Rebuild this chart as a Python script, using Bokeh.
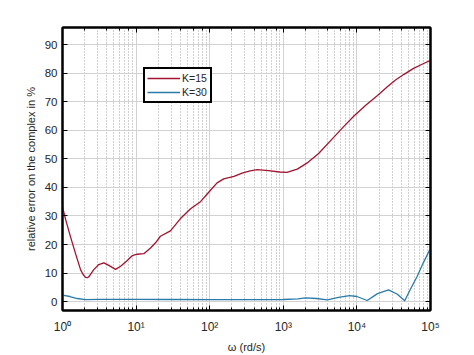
import numpy as np
from bokeh.plotting import figure
from bokeh.models import (Range1d, FixedTicker, LogAxis, LinearAxis, Legend,
                          LegendItem, LogTicker)
from bokeh.embed import file_html
from bokeh.resources import INLINE

# ---- data ----
k15_logw = [0.00, 0.04, 0.109, 0.177, 0.245, 0.28, 0.313, 0.34, 0.36, 0.425,
            0.493, 0.561, 0.629, 0.72, 0.79, 0.88, 0.947, 1.015, 1.105, 1.196,
            1.264, 1.33, 1.467, 1.60, 1.74, 1.875, 1.99, 2.10, 2.19, 2.33,
            2.44, 2.55, 2.645, 2.80, 2.95, 3.05, 3.19, 3.32, 3.48, 3.64,
            3.82, 3.96, 4.12, 4.28, 4.41, 4.52, 4.64, 4.77, 4.90, 5.00]
k15_err = [33.3, 29.0, 22.7, 16.8, 11.2, 9.5, 8.5, 8.4, 8.8, 11.2,
           13.0, 13.6, 12.7, 11.3, 12.4, 14.4, 16.1, 16.6, 16.8, 18.8,
           20.6, 22.9, 24.8, 29.0, 32.5, 35.0, 38.4, 41.6, 43.0, 43.9,
           45.0, 45.8, 46.2, 45.9, 45.4, 45.3, 46.4, 48.5, 51.9, 56.3,
           61.3, 65.0, 68.8, 72.2, 75.2, 77.5, 79.6, 81.7, 83.3, 84.5]

k30_logw = [0.00, 0.10, 0.20, 0.31, 0.50, 1.00, 1.50, 2.00, 2.50, 3.00, 3.20,
            3.30, 3.45, 3.60, 3.75, 3.90, 4.00, 4.14, 4.28, 4.43, 4.55, 4.65,
            4.72, 4.82, 4.90, 5.00]
k30_err = [2.3, 1.8, 1.1, 0.7, 0.8, 0.8, 0.75, 0.7, 0.7, 0.75, 1.0,
           1.3, 1.1, 0.6, 1.5, 2.1, 1.8, 0.4, 2.8, 4.1, 2.6, 0.3,
           4.0, 8.9, 13.5, 18.7]

y_ticks = [0, 10, 20, 30, 40, 50, 60, 70, 80, 90]
x_labels = {1: "10⁰", 10: "10¹", 100: "10²", 1000: "10³", 10000: "10⁴", 100000: "10⁵"}
series_names = ["K=15", "K=30"]
series_colors = ["#A2142F", "#2B7BAA"]

FONT = "Liberation Sans"

k15_w = [10 ** v for v in k15_logw]
k30_w = [10 ** v for v in k30_logw]

p = figure(width=474, height=355, x_axis_type="log",
           x_range=Range1d(1, 1e5), y_range=Range1d(-3.1, 96),
           output_backend="svg", toolbar_location=None,
           min_border_left=62, min_border_right=44,
           min_border_top=27, min_border_bottom=40)
p.background_fill_color = "white"
p.border_fill_color = "white"
p.outline_line_color = "black"
p.outline_line_width = 2

# grids
p.xgrid.grid_line_color = "#d2d2d2"
p.xgrid.grid_line_width = 1
p.xgrid.minor_grid_line_color = "#a0a0a0"
p.xgrid.minor_grid_line_dash = "1 2"
p.ygrid.grid_line_color = "#d2d2d2"
p.ygrid.ticker = FixedTicker(ticks=y_ticks)

# main axes
xa = p.xaxis[0]
xa.major_label_overrides = x_labels
xa.axis_label = "ω (rd/s)"
ya = p.yaxis[0]
ya.ticker = FixedTicker(ticks=y_ticks)
ya.axis_label = "relative error on the complex in %"

for ax in (xa, ya):
    ax.axis_line_color = "black"
    ax.axis_line_width = 2
    ax.major_tick_in = 5
    ax.major_tick_out = 0
    ax.minor_tick_in = 3
    ax.minor_tick_out = 0
    ax.major_tick_line_color = "black"
    ax.minor_tick_line_color = "black"
    ax.major_label_text_font = FONT
    ax.major_label_text_font_size = "11.5px"
    ax.major_label_text_color = "#262626"
    ax.axis_label_text_font = FONT
    ax.axis_label_text_font_size = "11px"
    ax.axis_label_text_font_style = "normal"
    ax.axis_label_text_color = "#262626"
xa.major_label_text_font_size = "12px"
xa.major_label_standoff = 9
xa.axis_label_standoff = 4
ya.major_label_standoff = 5
ya.axis_label_standoff = 5
ya.minor_tick_in = 0

# mirrored axes (top/right) with inside ticks only, labels hidden
top = LogAxis(ticker=LogTicker())
right = LinearAxis(ticker=FixedTicker(ticks=y_ticks))
for ax in (top, right):
    ax.axis_line_color = "black"
    ax.axis_line_width = 2
    ax.major_tick_in = 5
    ax.major_tick_out = 0
    ax.minor_tick_in = 3
    ax.minor_tick_out = 0
    ax.major_tick_line_color = "black"
    ax.minor_tick_line_color = "black"
    ax.major_label_text_font_size = "1px"
    ax.major_label_text_alpha = 0
    ax.major_label_standoff = 0
right.minor_tick_in = 0
p.add_layout(top, "above")
p.add_layout(right, "right")

r1 = p.line(k15_w, k15_err, line_color=series_colors[0], line_width=1.3,
            line_join="round")
r2 = p.line(k30_w, k30_err, line_color=series_colors[1], line_width=1.3,
            line_join="round")

legend = Legend(items=[LegendItem(label=series_names[0], renderers=[r1]),
                       LegendItem(label=series_names[1], renderers=[r2])],
                location=(81, 207))
legend.border_line_color = "black"
legend.border_line_width = 2
legend.border_line_alpha = 1
legend.background_fill_color = "white"
legend.background_fill_alpha = 1
legend.label_text_font = FONT
legend.label_text_font_size = "10.5px"
legend.label_text_color = "#262626"
legend.glyph_width = 33
legend.glyph_height = 14
legend.label_height = 14
legend.label_width = 26
legend.label_standoff = 2
legend.padding = 2
legend.spacing = 0
legend.margin = 0
p.add_layout(legend, "center")

open("out.html", "w").write(file_html(p, INLINE))
